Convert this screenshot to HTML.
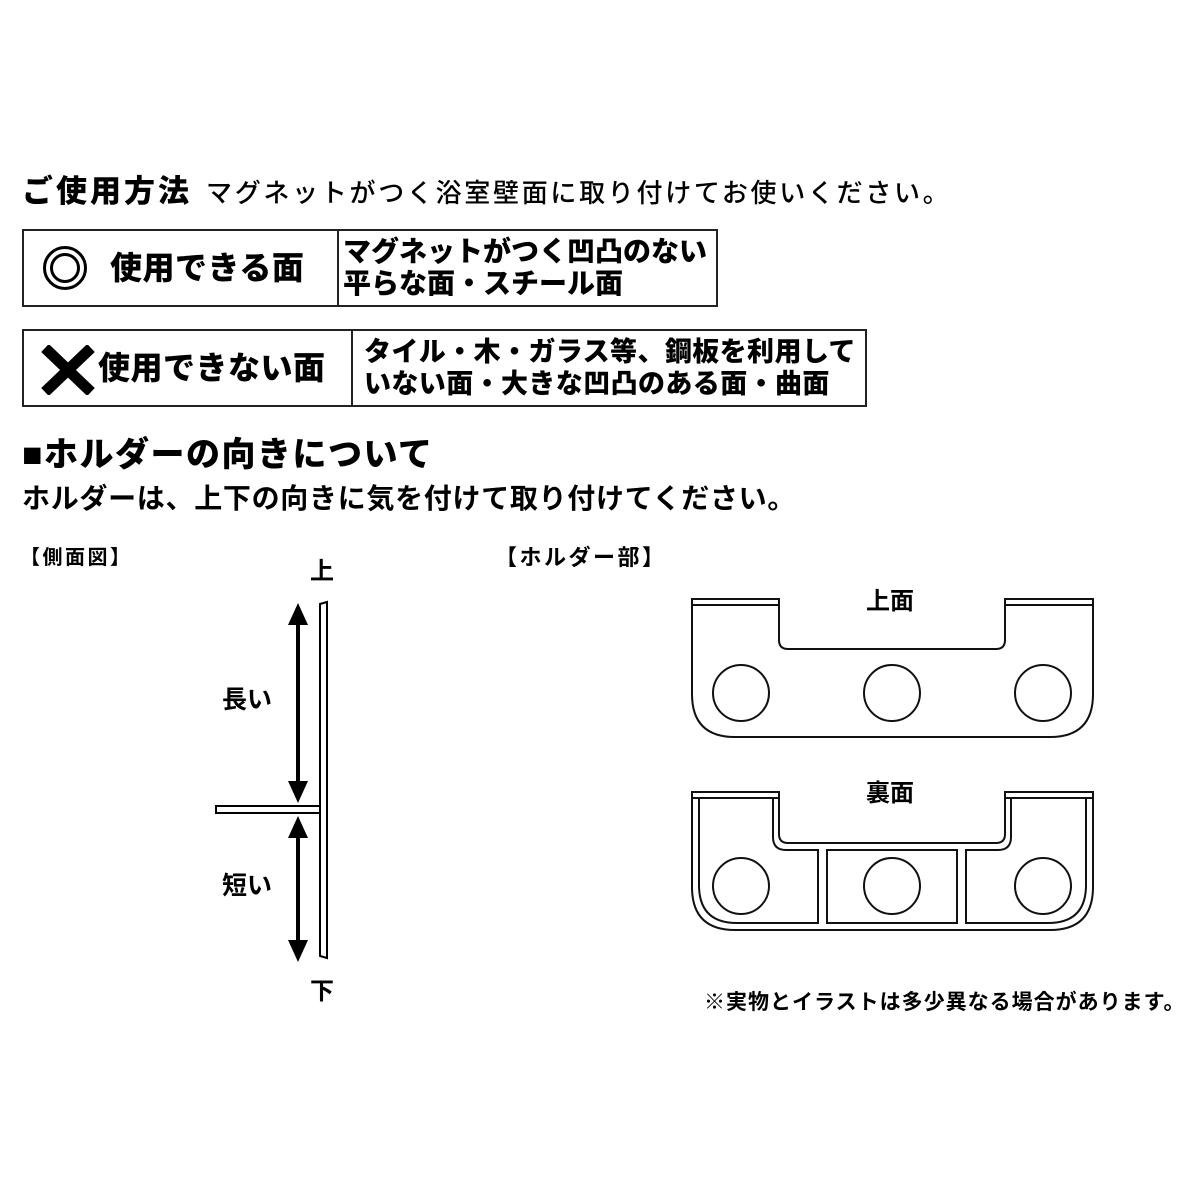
<!DOCTYPE html>
<html><head><meta charset="utf-8"><style>
body{margin:0;width:1200px;height:1200px;background:#fff;position:relative;overflow:hidden;font-family:"Liberation Sans","Noto Sans CJK JP",sans-serif;color:#000}
.t{position:absolute;white-space:nowrap;font-weight:900;line-height:1}
.b{position:absolute;border:2px solid #222;box-sizing:border-box}
</style></head><body>
<div class="t" style="left:22px;top:176px;font-size:31px;letter-spacing:3px">ご使用方法</div>
<div class="t" style="left:206px;top:180px;font-size:26px;font-weight:500;letter-spacing:2.7px">マグネットがつく浴室壁面に取り付けてお使いください。</div>

<div class="b" style="left:22px;top:229px;width:696px;height:78px"></div>
<div style="position:absolute;left:337px;top:229px;width:2px;height:78px;background:#222"></div>
<div style="position:absolute;left:43px;top:246px;width:44px;height:44px;border:3px solid #000;border-radius:50%;box-sizing:border-box"></div>
<div style="position:absolute;left:50px;top:253px;width:30px;height:30px;border:3px solid #000;border-radius:50%;box-sizing:border-box"></div>
<div class="t" style="left:110px;top:252px;font-size:32px;letter-spacing:0.5px">使用できる面</div>
<div class="t" style="left:343px;top:236px;font-size:28px;line-height:32px">マグネットがつく凹凸のない<br>平らな面・スチール面</div>

<div class="b" style="left:22px;top:329px;width:845px;height:78px"></div>
<div style="position:absolute;left:351px;top:329px;width:2px;height:78px;background:#222"></div>
<svg style="position:absolute;left:40px;top:345px" width="56" height="50"><path d="M5 3 L51 47 M51 3 L5 47" stroke="#000" stroke-width="11"/></svg>
<div class="t" style="left:98px;top:352px;font-size:32px;letter-spacing:0.5px">使用できない面</div>
<div class="t" style="left:364px;top:336px;font-size:27px;line-height:32px;letter-spacing:0.4px">タイル・木・ガラス等、鋼板を利用して<br>いない面・大きな凹凸のある面・曲面</div>

<div class="t" style="left:22px;top:438px;font-size:34px;letter-spacing:1.5px">■ホルダーの向きについて</div>
<div class="t" style="left:22px;top:485px;font-size:28px;font-weight:700;letter-spacing:0.7px">ホルダーは、上下の向きに気を付けて取り付けてください。</div>
<div class="t" style="left:20px;top:548px;font-size:20px;font-weight:700;letter-spacing:2.5px">【側面図】</div>
<div class="t" style="left:495px;top:547px;font-size:22px;font-weight:700;letter-spacing:2.5px">【ホルダー部】</div>

<svg style="position:absolute;left:0;top:0" width="1200" height="1200">
<g stroke="#000" stroke-width="2" fill="none">
<path d="M320 604 L327 602 L327 958 L320 956 Z" fill="#fff"/>
<rect x="216" y="806" width="104" height="7" fill="#fff"/>
<line x1="298" y1="618" x2="298" y2="790" stroke-width="4"/>
<line x1="298" y1="830" x2="298" y2="948" stroke-width="4"/>
</g>
<g fill="#000">
<polygon points="298,603 288,625 308,625"/>
<polygon points="298,803 288,781 308,781"/>
<polygon points="298,816 288,838 308,838"/>
<polygon points="298,962 288,940 308,940"/>
</g>
<g stroke="#111" stroke-width="2" fill="none">
<path d="M692 599 L779 599 L779 640 Q779 649 788 649 L996 649 Q1005 649 1005 640 L1005 599 L1093 599 L1093 694 Q1093 737 1050 737 L735 737 Q692 737 692 694 Z"/>
<line x1="692" y1="605" x2="779" y2="605"/>
<line x1="1005" y1="605" x2="1093" y2="605"/>
<circle cx="741" cy="693" r="28"/><circle cx="892" cy="693" r="28"/><circle cx="1043" cy="693" r="28"/>
<path d="M692 792 L779 792 L779 834 Q779 843 788 843 L996 843 Q1005 843 1005 834 L1005 792 L1093 792 L1093 887 Q1093 930 1050 930 L735 930 Q692 930 692 887 Z"/>
<line x1="692" y1="798" x2="779" y2="798"/>
<line x1="1005" y1="798" x2="1093" y2="798"/>
<path d="M699 798 L699 885 Q699 923 737 923 L818 923 L818 850 L786 850 Q773 850 773 837 L773 798"/>
<path d="M1086 798 L1086 885 Q1086 923 1048 923 L966 923 L966 850 L998 850 Q1011 850 1011 837 L1011 798"/>
<rect x="827" y="850" width="130" height="73"/>
<circle cx="741" cy="886" r="28"/><circle cx="892" cy="886" r="28"/><circle cx="1043" cy="886" r="28"/>
</g>
</svg>
<div class="t" style="left:310px;top:560px;font-size:24px;font-weight:700">上</div>
<div class="t" style="left:310px;top:980px;font-size:24px;font-weight:700">下</div>
<div class="t" style="left:222px;top:688px;font-size:25px;font-weight:700">長い</div>
<div class="t" style="left:222px;top:874px;font-size:25px;font-weight:700">短い</div>
<div class="t" style="left:866px;top:590px;font-size:24px;font-weight:700">上面</div>
<div class="t" style="left:866px;top:782px;font-size:24px;font-weight:700">裏面</div>
<div class="t" style="left:704px;top:992px;font-size:21px;font-weight:700;letter-spacing:1px">※実物とイラストは多少異なる場合があります。</div>
</body></html>
